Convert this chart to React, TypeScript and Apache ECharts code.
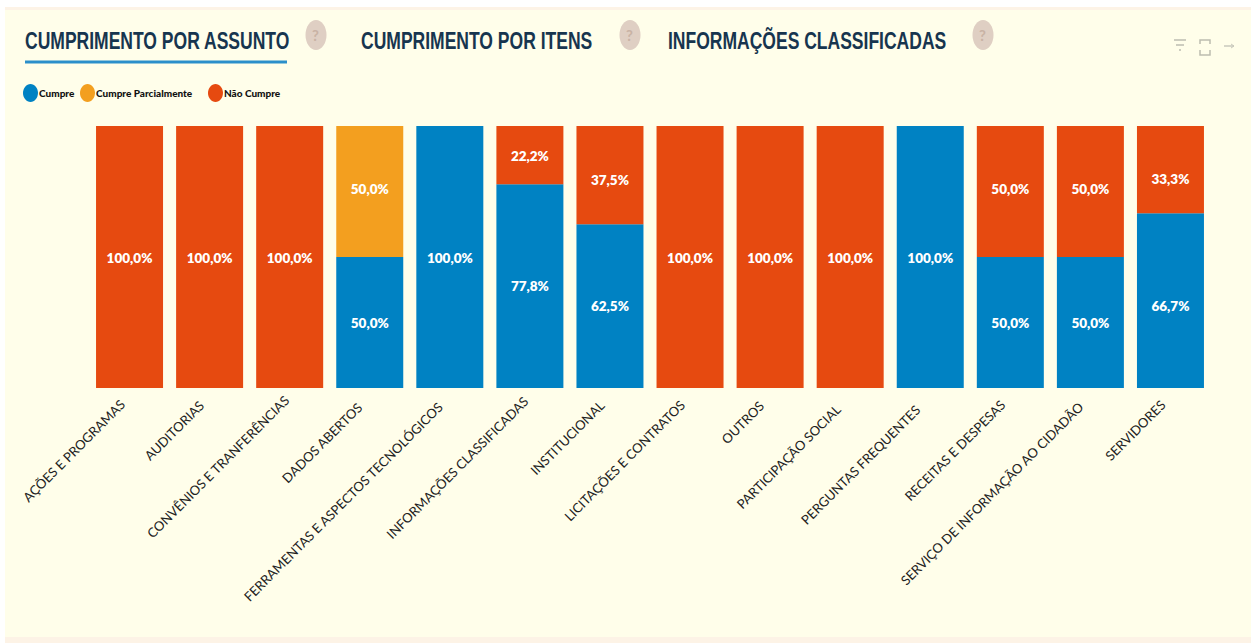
import React, { useEffect, useRef } from "react";
import * as echarts from "echarts";

const categories = [
  "AÇÕES E PROGRAMAS", "AUDITORIAS", "CONVÊNIOS E TRANFERÊNCIAS", "DADOS ABERTOS",
  "FERRAMENTAS E ASPECTOS TECNOLÓGICOS", "INFORMAÇÕES CLASSIFICADAS", "INSTITUCIONAL",
  "LICITAÇÕES E CONTRATOS", "OUTROS", "PARTICIPAÇÃO SOCIAL", "PERGUNTAS FREQUENTES",
  "RECEITAS E DESPESAS", "SERVIÇO DE INFORMAÇÃO AO CIDADÃO", "SERVIDORES",
];
const cumpre = [null, null, null, 50, 100, 77.8, 62.5, null, null, null, 100, 50, 50, 66.7];
const parcial = [null, null, null, 50, null, null, null, null, null, null, null, null, null, null];
const naoCumpre = [100, 100, 100, null, null, 22.2, 37.5, 100, 100, 100, null, 50, 50, 33.3];
const tabs = ["CUMPRIMENTO POR ASSUNTO", "CUMPRIMENTO POR ITENS", "INFORMAÇÕES CLASSIFICADAS"];

const BLUE = "#0082c3";
const ORANGE = "#f39f1f";
const RED = "#e64a10";
const ELLIPSE = "path://M50 0C77 0 100 27 100 60C100 93 77 120 50 120C23 120 0 93 0 60C0 27 23 0 50 0Z";

const nudgeCumpre: Record<number, number> = { 4: 1, 10: 1, 13: 5 };
const nudgeParcial: Record<number, number> = { 3: -3 };
const nudgeNao: Record<number, number> = { 0: 1, 1: 1, 2: 1, 5: 1, 6: 5, 7: 1, 8: 1, 9: 1, 11: -3, 12: -3, 13: 9 };
// horizontal shift of each rotated category label, in px to the left
const labelShift = [0, 2, -8, 6, 5, -6, 2, 1, 3, 10, 11, 1, 5, 1];

function categoryItem(value: string, i: number) {
  const a = labelShift[i] / Math.SQRT2;
  return {
    value,
    textStyle: { padding: [a < 0 ? -4 * a : 0, 10 + a, a > 0 ? 4 * a : 0, 0] },
  };
}

function legendAt(name: string, left: number) {
  return {
    data: [{ name, icon: ELLIPSE }], left, top: 84, itemWidth: 15, itemHeight: 18, padding: 0,
    itemStyle: { borderWidth: 0 },
    textStyle: { fontFamily: "Lato", fontWeight: 900, fontSize: 10, color: "#111", padding: [0, 0, 0, -4] },
    selectedMode: false,
  };
}

function series(name: string, data: (number | null)[], color: string, nudge: Record<number, number>) {
  return {
    name, type: "bar", stack: "total", barWidth: 67,
    data: data.map((value, i) => ({ value, label: { offset: [0, nudge[i] || 0] } })),
    itemStyle: { color },
    label: {
      show: true, position: "inside", color: "#fff", fontFamily: "Lato", fontWeight: 800, fontSize: 13.5,
      formatter: (p: any) => p.value.toFixed(1).replace(".", ",") + "%",
    },
  };
}

function title(text: string, x: number) {
  return {
    type: "text", x, y: 28.5, scaleX: 0.73,
    style: {
      text, fill: "#17354f", fontFamily: "Liberation Sans", fontWeight: 700, fontSize: 24,
      shadowColor: "rgba(20,70,110,0.6)", shadowBlur: 2,
    },
  };
}

function help(cx: number) {
  return [
    { type: "ellipse", shape: { cx, cy: 35, rx: 10.5, ry: 15 }, style: { fill: "#dfcfc3" } },
    { type: "text", x: cx - 4, y: 27, style: { text: "?", fill: "#c9b3a5", fontFamily: "Lato", fontWeight: 700, fontSize: 15 } },
  ];
}

export default function App() {
  const ref = useRef<HTMLDivElement>(null);
  useEffect(() => {
    document.body.style.margin = "0";
    const chart = echarts.init(ref.current!, undefined, { renderer: "svg" });
    const icon = { stroke: "#bdbdb0", lineWidth: 1.5, fill: "none" };
    chart.setOption({
      animation: false,
      backgroundColor: "#ffffff",
      legend: [legendAt("Cumpre", 23), legendAt("Cumpre Parcialmente", 80), legendAt("Não Cumpre", 208)],
      grid: { left: 89.5, right: 40.5, top: 126, bottom: 255, containLabel: false },
      xAxis: {
        type: "category", data: categories.map(categoryItem),
        axisLine: { show: false }, axisTick: { show: false },
        axisLabel: {
          interval: 0, rotate: 45, margin: 7, color: "#222", fontFamily: "Lato", fontSize: 13.1,
        },
      },
      yAxis: { type: "value", min: 0, max: 100, show: false, splitLine: { show: false } },
      series: [
        series("Cumpre", cumpre, BLUE, nudgeCumpre),
        series("Cumpre Parcialmente", parcial, ORANGE, nudgeParcial),
        series("Não Cumpre", naoCumpre, RED, nudgeNao),
      ],
      graphic: [
        { type: "rect", z: -10, shape: { x: 5, y: 7, width: 1246, height: 636 }, style: { fill: "#fdf3e6" } },
        { type: "rect", z: -9, shape: { x: 5, y: 10, width: 1246, height: 627 }, style: { fill: "#fffeea" } },
        title(tabs[0], 25),
        { type: "rect", shape: { x: 25, y: 60.5, width: 262, height: 3 }, style: { fill: "#2b8fca" } },
        ...help(316),
        title(tabs[1], 361),
        ...help(630),
        title(tabs[2], 668),
        ...help(983),
        { type: "polyline", shape: { points: [[1174, 40], [1186, 40]] }, style: icon },
        { type: "polyline", shape: { points: [[1176, 45], [1184, 45]] }, style: icon },
        { type: "polyline", shape: { points: [[1179, 50], [1181, 50]] }, style: icon },
        { type: "polyline", shape: { points: [[1200, 44], [1200, 40], [1210, 40], [1210, 44]] }, style: icon },
        { type: "polyline", shape: { points: [[1200, 50], [1200, 55], [1210, 55], [1210, 50]] }, style: icon },
        { type: "polyline", shape: { points: [[1224, 46], [1234, 46]] }, style: { ...icon, stroke: "#c9c9bc" } },
        { type: "polyline", shape: { points: [[1231, 44], [1234, 46], [1231, 48]] }, style: { ...icon, stroke: "#c9c9bc", lineWidth: 1 } },
      ],
    });
    return () => chart.dispose();
  }, []);
  return <div ref={ref} style={{ position: "fixed", left: 0, top: 0, width: 1251, height: 643 }} />;
}
